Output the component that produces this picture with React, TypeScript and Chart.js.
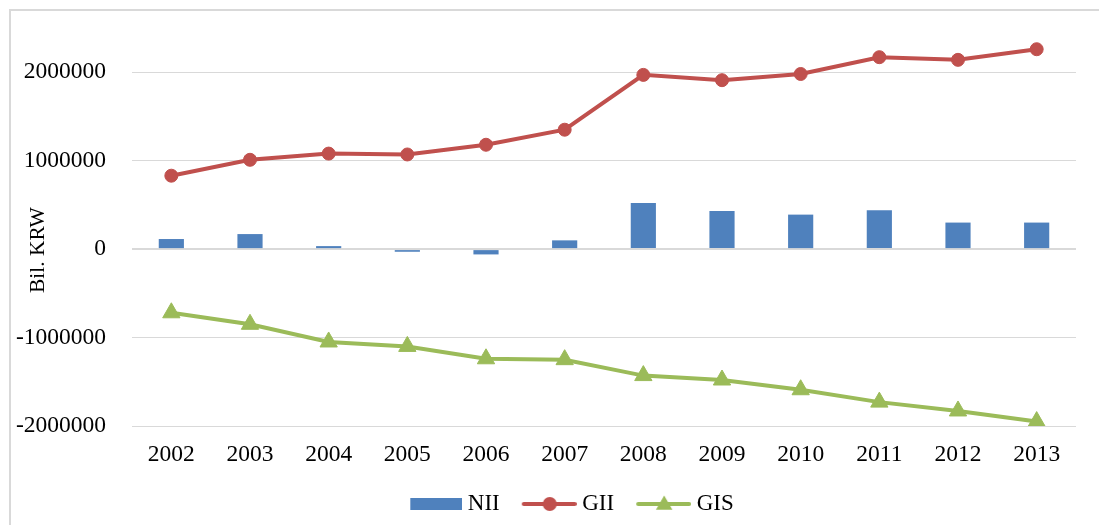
import React, { useEffect, useRef } from 'react';
import { Chart, registerables } from 'chart.js';

Chart.register(...registerables);

const years = ['2002', '2003', '2004', '2005', '2006', '2007', '2008', '2009', '2010', '2011', '2012', '2013'];
const nii = [114000, 170000, 34000, -30000, -60000, 99000, 520000, 430000, 390000, 440000, 300000, 300000];
const gii = [830000, 1010000, 1080000, 1070000, 1180000, 1350000, 1970000, 1910000, 1980000, 2170000, 2140000, 2260000];
const gis = [-720000, -850000, -1050000, -1100000, -1240000, -1250000, -1430000, -1480000, -1590000, -1730000, -1830000, -1950000];
const yTicks = [-2000000, -1000000, 0, 1000000, 2000000];
const yTitle = 'Bil. KRW';

const BLUE = '#4F81BD';
const RED = '#C0504D';
const GREEN = '#9BBB59';
const GRID = '#d9d9d9';
const FONT = '"Liberation Serif", "Times New Roman", serif';

function legendImage(kind: 'bar' | 'circle' | 'triangle', color: string): HTMLCanvasElement {
  const c = document.createElement('canvas');
  c.width = 64;
  c.height = 22;
  const ctx = c.getContext('2d')!;
  ctx.fillStyle = color;
  ctx.strokeStyle = color;
  if (kind === 'bar') {
    ctx.fillRect(12, 5, 52, 12);
  } else {
    ctx.lineWidth = 4;
    ctx.lineCap = 'round';
    ctx.beginPath();
    ctx.moveTo(11, 11);
    ctx.lineTo(62, 11);
    ctx.stroke();
    ctx.beginPath();
    if (kind === 'circle') {
      ctx.arc(37, 11, 7, 0, Math.PI * 2);
    } else {
      const r = 9.5;
      const cx = 37, cy = 12;
      for (let i = 0; i < 3; i++) {
        const a = (i * 2 * Math.PI) / 3;
        const px = cx + Math.sin(a) * r;
        const py = cy - Math.cos(a) * r;
        if (i === 0) ctx.moveTo(px, py); else ctx.lineTo(px, py);
      }
      ctx.closePath();
    }
    ctx.fill();
  }
  return c;
}

const yTitlePlugin = {
  id: 'yTitleCustom',
  afterDraw(chart: any) {
    const ctx = chart.ctx;
    const y = chart.scales.y.getPixelForValue(0);
    ctx.save();
    ctx.translate(38, y + 1);
    ctx.rotate(-Math.PI / 2);
    ctx.font = `21.5px ${FONT}`;
    ctx.fillStyle = '#000';
    ctx.textAlign = 'center';
    ctx.textBaseline = 'middle';
    ctx.fillText(yTitle, 0, 0);
    ctx.restore();
  },
};

const legendShiftPlugin = {
  id: 'legendShift',
  afterLayout(chart: any) {
    const l = chart.legend;
    if (l) {
      l.left += 31;
      l.right += 31;
    }
  },
};

export default function App() {
  const ref = useRef<HTMLCanvasElement | null>(null);

  useEffect(() => {
    document.body.style.margin = '0';
    const canvas = ref.current!;
    const images = [legendImage('bar', BLUE), legendImage('circle', RED), legendImage('triangle', GREEN)];
    const chart = new Chart(canvas, {
      type: 'bar',
      data: {
        labels: years,
        datasets: [
          {
            type: 'bar',
            label: 'NII',
            data: nii,
            backgroundColor: BLUE,
            borderWidth: 0,
            barPercentage: 0.32,
            categoryPercentage: 1,
            order: 3,
          },
          {
            type: 'line',
            label: 'GII',
            data: gii,
            borderColor: RED,
            backgroundColor: RED,
            borderWidth: 4,
            pointRadius: 6.5,
            pointBorderWidth: 1,
            pointStyle: 'circle',
            pointBackgroundColor: RED,
            pointBorderColor: RED,
            tension: 0,
            order: 1,
          },
          {
            type: 'line',
            label: 'GIS',
            data: gis,
            borderColor: GREEN,
            backgroundColor: GREEN,
            borderWidth: 4,
            pointRadius: 10,
            pointBorderWidth: 1,
            pointStyle: 'triangle',
            pointBackgroundColor: GREEN,
            pointBorderColor: GREEN,
            tension: 0,
            order: 2,
          },
        ],
      } as any,
      options: {
        responsive: false,
        animation: false,
        devicePixelRatio: 1,
        layout: { padding: { left: 0, right: 23, top: 28, bottom: -0.5 } },
        plugins: {
          tooltip: { enabled: false },
          legend: {
            position: 'bottom',
            labels: {
              usePointStyle: true,
              pointStyleWidth: 52,
              padding: 19,
              color: '#000',
              font: { family: FONT, size: 23 },
              sort: (a: any, b: any) => a.datasetIndex - b.datasetIndex,
              generateLabels: (ch: any) => {
                const items = Chart.defaults.plugins.legend.labels.generateLabels(ch);
                return items.map((it: any) => ({ ...it, pointStyle: images[it.datasetIndex] }));
              },
            },
          },
        },
        scales: {
          x: {
            type: 'category',
            offset: true,
            grid: { display: false, drawTicks: false },
            border: { display: false },
            ticks: { color: '#000', font: { family: FONT, size: 23.5 }, padding: 15, maxRotation: 0 },
            afterFit: (s: any) => {
              s.height = 47.5;
              s.paddingLeft = 0;
              s.paddingRight = 0;
            },
          },
          y: {
            type: 'linear',
            min: -2000000,
            max: 2500000,
            grid: {
              color: GRID,
              lineWidth: (c: any) => (c.tick && c.tick.value === 0 ? 2 : 1),
              drawTicks: false,
            },
            border: { display: false },
            ticks: {
              color: '#000',
              font: { family: FONT, size: 23.5 },
              padding: 26,
              callback: (v: any) => String(v),
            },
            afterBuildTicks: (s: any) => {
              s.ticks = yTicks.map((v) => ({ value: v }));
            },
            afterFit: (s: any) => {
              s.width = 132;
              s.paddingTop = 0;
              s.paddingBottom = 0;
            },
          },
        },
      } as any,
      plugins: [yTitlePlugin, legendShiftPlugin],
    });
    return () => chart.destroy();
  }, []);

  return (
    <div style={{ position: 'relative', width: 1099, height: 525, overflow: 'hidden', background: '#fff' }}>
      <div
        style={{
          position: 'absolute',
          left: 9,
          top: 9,
          width: 1200,
          height: 600,
          borderTop: `2px solid ${GRID}`,
          borderLeft: `2px solid ${GRID}`,
        }}
      />
      <canvas ref={ref} width={1099} height={525} style={{ position: 'absolute', left: 0, top: 0 }} />
    </div>
  );
}
